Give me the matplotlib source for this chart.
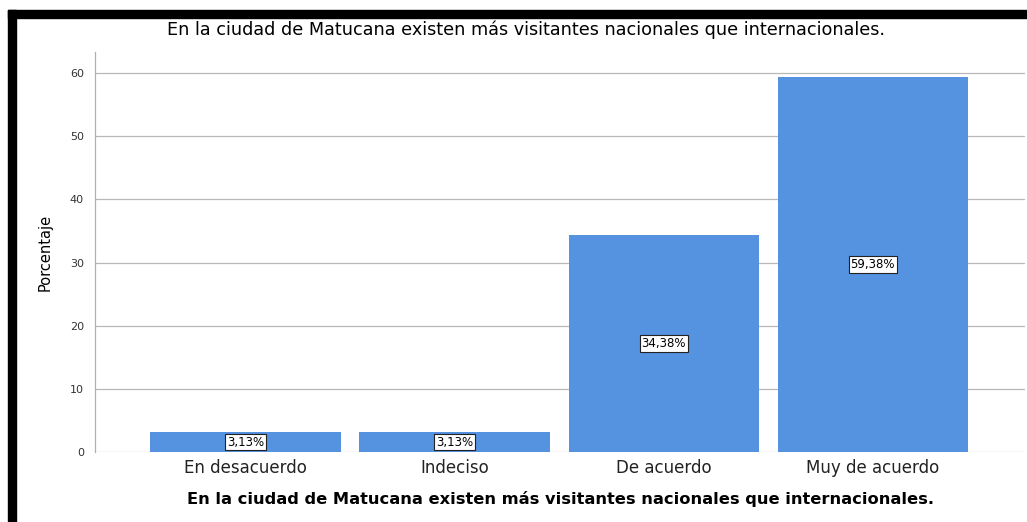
import matplotlib.pyplot as plt

# ── Data ─────────────────────────────────────────────────────────────────────
categories = ['En desacuerdo', 'Indeciso', 'De acuerdo', 'Muy de acuerdo']
porcentajes = [3.13, 3.13, 34.38, 59.38]
yticks = [0, 10, 20, 30, 40, 50, 60]
titulo = 'En la ciudad de Matucana existen más visitantes nacionales que internacionales.'

plt.rcParams['font.family'] = ['DejaVu Sans']

fig = plt.figure(figsize=(10.27, 5.22), dpi=100)
ax = fig.add_axes([0.0925, 0.134, 0.906, 0.766])

x = range(len(categories))
bars = ax.bar(x, porcentajes, width=0.91, color='#5592E0', zorder=2)

# value labels in white boxes at mid-bar
for b, v in zip(bars, porcentajes):
    ax.text(b.get_x() + b.get_width() / 2, v / 2, f'{v:.2f}%'.replace('.', ','),
            ha='center', va='center', fontsize=8.5, color='black', zorder=3,
            bbox=dict(boxstyle='square,pad=0.15', fc='white', ec='#222222', lw=0.8))

ax.set_xlim(-0.72, 3.73)
ax.set_ylim(0, 63.3)
ax.set_yticks(yticks)
ax.set_yticklabels([str(t) for t in yticks], fontsize=8, color='#333333')
ax.set_xticks(list(x))
ax.set_xticklabels(categories, fontsize=12, color='#222222')
ax.tick_params(axis='both', length=0, pad=5)
ax.tick_params(axis='y', pad=8)

ax.yaxis.grid(True, color='#b8b8b8', lw=0.9, zorder=0)
ax.set_axisbelow(True)
for s in ['top', 'right', 'bottom']:
    ax.spines[s].set_visible(False)
ax.spines['left'].set_color('#b0b0b0')
ax.spines['left'].set_linewidth(0.9)

ax.set_ylabel('Porcentaje', fontsize=10.5, labelpad=12)
ax.set_xlabel(titulo, fontsize=11.7, fontweight='bold', labelpad=10)
fig.text(526 / 1027, 1 - 30 / 522, titulo, ha='center', va='center', fontsize=12.7)

# black frame on the top and left edges
fig.patches.append(plt.Rectangle((8 / 1027, 0), 8 / 1027, (522 - 10) / 522,
                                 transform=fig.transFigure, color='black'))
fig.patches.append(plt.Rectangle((8 / 1027, (522 - 18) / 522), 1 - 8 / 1027, 8 / 522,
                                 transform=fig.transFigure, color='black'))

fig.savefig('out.png', dpi=100)
